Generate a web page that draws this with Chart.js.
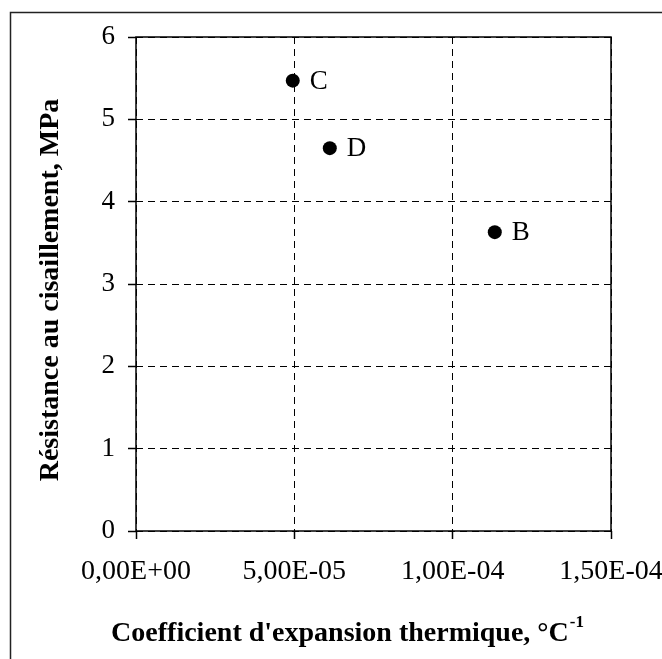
<!DOCTYPE html>
<html>
<head>
<meta charset="utf-8">
<script src="https://cdn.jsdelivr.net/npm/chart.js@4.4.1/dist/chart.umd.min.js"></script>
<style>
  html, body { margin: 0; padding: 0; background: #ffffff; }
  #wrap { width: 662px; height: 659px; position: relative; }
  canvas { display: block; }
</style>
</head>
<body>
<div id="wrap"><canvas id="c" width="662" height="659"></canvas></div>
<script>
// ---- data ----
const pointLabels = ['C', 'D', 'B'];
const expansionCoef = [4.95e-5, 6.12e-5, 1.133e-4];   // °C^-1
const shearStrength = [5.47, 4.65, 3.63];             // MPa
const xTickValues = [0, 5e-5, 1e-4, 1.5e-4];
const xTickLabels = ['0,00E+00', '5,00E-05', '1,00E-04', '1,50E-04'];
const yTickValues = [0, 1, 2, 3, 4, 5, 6];
const yTickLabels = ['0', '1', '2', '3', '4', '5', '6'];
const xTitle = "Coefficient d'expansion thermique, °C";
const xTitleSup = '-1';
const yTitle = 'Résistance au cisaillement, MPa';

const SERIF = "'Liberation Serif', 'Times New Roman', serif";

const points = expansionCoef.map((x, i) => ({ x: x, y: shearStrength[i] }));

const decorPlugin = {
  id: 'decor',
  beforeDraw(chart) {
    const ctx = chart.ctx;
    ctx.save();
    ctx.fillStyle = '#ffffff';
    ctx.fillRect(0, 0, chart.width, chart.height);
    // outer frame (extends beyond the right and bottom edges)
    ctx.strokeStyle = '#222222';
    ctx.lineWidth = 1.5;
    ctx.strokeRect(10.5, 12.5, 720, 720);
    ctx.restore();
  },
  beforeDatasetsDraw(chart) {
    const ctx = chart.ctx;
    const a = chart.chartArea;
    ctx.save();
    ctx.strokeStyle = '#000000';
    ctx.lineWidth = 1.5;
    ctx.setLineDash([]);
    ctx.strokeRect(a.left, a.top, a.right - a.left, a.bottom - a.top);
    ctx.restore();
  },
  afterDatasetsDraw(chart) {
    const ctx = chart.ctx;
    const meta = chart.getDatasetMeta(0);
    ctx.save();
    ctx.fillStyle = '#000000';
    ctx.font = '27px ' + SERIF;
    ctx.textAlign = 'left';
    ctx.textBaseline = 'middle';
    meta.data.forEach((el, i) => {
      ctx.fillText(pointLabels[i], el.x + 17, el.y + 1);
    });
    ctx.restore();
  },
  afterDraw(chart) {
    const ctx = chart.ctx;
    const a = chart.chartArea;
    ctx.save();
    ctx.fillStyle = '#000000';
    // x axis title with superscript
    const mainFont = 'bold 28px ' + SERIF;
    const supFont = 'bold 17px ' + SERIF;
    ctx.font = mainFont;
    const wMain = ctx.measureText(xTitle).width;
    ctx.font = supFont;
    const wSup = ctx.measureText(xTitleSup).width;
    const cx = (a.left + a.right) / 2 - 26;
    const startX = cx - (wMain + wSup + 1) / 2;
    const baseY = a.bottom + 110;
    ctx.textAlign = 'left';
    ctx.textBaseline = 'alphabetic';
    ctx.font = mainFont;
    ctx.fillText(xTitle, startX, baseY);
    ctx.font = supFont;
    ctx.fillText(xTitleSup, startX + wMain + 1, baseY - 14);
    // y axis title (rotated)
    ctx.translate(a.left - 78.5, (a.top + a.bottom) / 2 + 6);
    ctx.rotate(-Math.PI / 2);
    ctx.font = mainFont;
    ctx.textAlign = 'center';
    ctx.textBaseline = 'alphabetic';
    ctx.fillText(yTitle, 0, 0);
    ctx.restore();
  }
};

new Chart(document.getElementById('c'), {
  type: 'scatter',
  data: {
    datasets: [{
      data: points,
      backgroundColor: '#000000',
      borderColor: '#000000',
      pointRadius: 7,
      pointHoverRadius: 7,
      borderWidth: 0
    }]
  },
  options: {
    responsive: false,
    animation: false,
    devicePixelRatio: 1,
    layout: { padding: { left: 0, top: 37, right: 51, bottom: 0 } },
    plugins: {
      legend: { display: false },
      tooltip: { enabled: false },
      title: { display: false }
    },
    scales: {
      x: {
        type: 'linear',
        min: 0,
        max: 1.5e-4,
        afterBuildTicks(scale) { scale.ticks = xTickValues.map(v => ({ value: v })); },
        afterFit(scale) { scale.height = 128; scale.paddingLeft = 0; scale.paddingRight = 0; },
        ticks: {
          color: '#000000',
          font: { family: SERIF, size: 28 },
          padding: 16,
          maxRotation: 0,
          autoSkip: false,
          callback: (v, i) => xTickLabels[i]
        },
        grid: {
          color: '#000000',
          lineWidth: 1,
          drawTicks: true,
          tickLength: 8,
          tickColor: '#000000',
          tickWidth: 1.5,
          tickBorderDash: []
        },
        border: { display: false, dash: [7, 5] },
        title: { display: false }
      },
      y: {
        type: 'linear',
        min: 0,
        max: 6,
        afterBuildTicks(scale) { scale.ticks = yTickValues.map(v => ({ value: v })); },
        afterFit(scale) { scale.width = 136; scale.paddingTop = 0; scale.paddingBottom = 0; },
        ticks: {
          color: '#000000',
          font: { family: SERIF, size: 27 },
          padding: 13,
          autoSkip: false,
          callback: (v, i) => yTickLabels[i]
        },
        grid: {
          color: '#000000',
          lineWidth: 1,
          drawTicks: true,
          tickLength: 8,
          tickColor: '#000000',
          tickWidth: 1.5,
          tickBorderDash: []
        },
        border: { display: false, dash: [7, 5] },
        title: { display: false }
      }
    }
  },
  plugins: [decorPlugin]
});
</script>
</body>
</html>
